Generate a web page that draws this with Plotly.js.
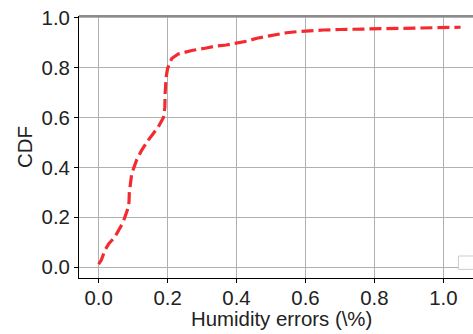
<!DOCTYPE html>
<html>
<head>
<meta charset="utf-8">
<script src="https://cdn.plot.ly/plotly-3.0.1.min.js"></script>
<style>html,body{margin:0;padding:0;background:#fff;}#chart{width:473px;height:334px;}</style>
</head>
<body>
<div id="chart"></div>
<script>
const errorValues = [0, 0.008, 0.018, 0.03, 0.047, 0.06, 0.071, 0.083, 0.088, 0.089, 0.092, 0.096, 0.11, 0.125, 0.144, 0.16, 0.173, 0.188, 0.192, 0.193, 0.196, 0.2, 0.212, 0.231, 0.27, 0.309, 0.342, 0.37, 0.4, 0.43, 0.459, 0.49, 0.517, 0.545, 0.575, 0.61, 0.652, 0.7, 0.75, 0.8, 0.846, 0.86, 0.9, 0.95, 1.0, 1.05];
const cdfValues = [0.012, 0.03, 0.068, 0.095, 0.121, 0.15, 0.18, 0.228, 0.26, 0.30, 0.335, 0.375, 0.429, 0.469, 0.509, 0.54, 0.562, 0.6, 0.64, 0.70, 0.763, 0.796, 0.836, 0.854, 0.868, 0.877, 0.886, 0.89, 0.897, 0.905, 0.917, 0.925, 0.933, 0.939, 0.943, 0.947, 0.95, 0.952, 0.953, 0.954, 0.955, 0.958, 0.959, 0.96, 0.96, 0.961];
const tickValues = [0, 0.2, 0.4, 0.6, 0.8, 1.0];
const tickLabels = ["0.0", "0.2", "0.4", "0.6", "0.8", "1.0"];
const xTitle = "Humidity errors (\\%)";
const yTitle = "CDF";

const font = {family: "Liberation Sans, Arial, sans-serif", size: 20.4, color: "#222"};

const trace = {
  x: errorValues, y: cdfValues, type: "scatter", mode: "lines",
  line: {color: "#f42a2f", width: 3.2, dash: "12px,5px"},
  showlegend: false, hoverinfo: "skip"
};

const layout = {
  width: 473, height: 334,
  margin: {l: 79, r: 0, t: 16, b: 56},
  paper_bgcolor: "#fff", plot_bgcolor: "#fff",
  font: font,
  showlegend: false,
  xaxis: {
    range: [-0.057, 1.086],
    tickvals: tickValues, ticktext: tickLabels,
    ticks: "outside", ticklen: 4, tickcolor: "#000", tickwidth: 1,
    ticklabelstandoff: -2,
    showgrid: true, gridcolor: "#b0b0b0", gridwidth: 1,
    showline: true, linecolor: "#000", linewidth: 1,
    zeroline: false,
    tickfont: font
  },
  yaxis: {
    range: [-0.043, 1.006],
    tickvals: tickValues, ticktext: tickLabels,
    ticks: "outside", ticklen: 4, tickcolor: "#000", tickwidth: 1,
    showgrid: true, gridcolor: "#b0b0b0", gridwidth: 1,
    showline: true, linecolor: "#000", linewidth: 1,
    zeroline: false,
    tickfont: font,
    title: {text: yTitle, font: font, standoff: 3}
  },
  annotations: [
    {text: xTitle, xref: "paper", yref: "paper", x: 0.513, y: -0.157,
     xanchor: "center", yanchor: "middle", showarrow: false, font: font}
  ],
  shapes: [
    {type: "line", xref: "paper", yref: "paper", x0: 0, x1: 1, y0: 1, y1: 1,
     line: {color: "#666", width: 1.5}},
    {type: "rect", xref: "paper", yref: "paper", x0: 0.963, x1: 1.03, y0: 0.033, y1: 0.084,
     line: {color: "#ccc", width: 1}, fillcolor: "#fff"}
  ]
};

Plotly.newPlot("chart", [trace], layout, {staticPlot: true, displayModeBar: false});
</script>
</body>
</html>
